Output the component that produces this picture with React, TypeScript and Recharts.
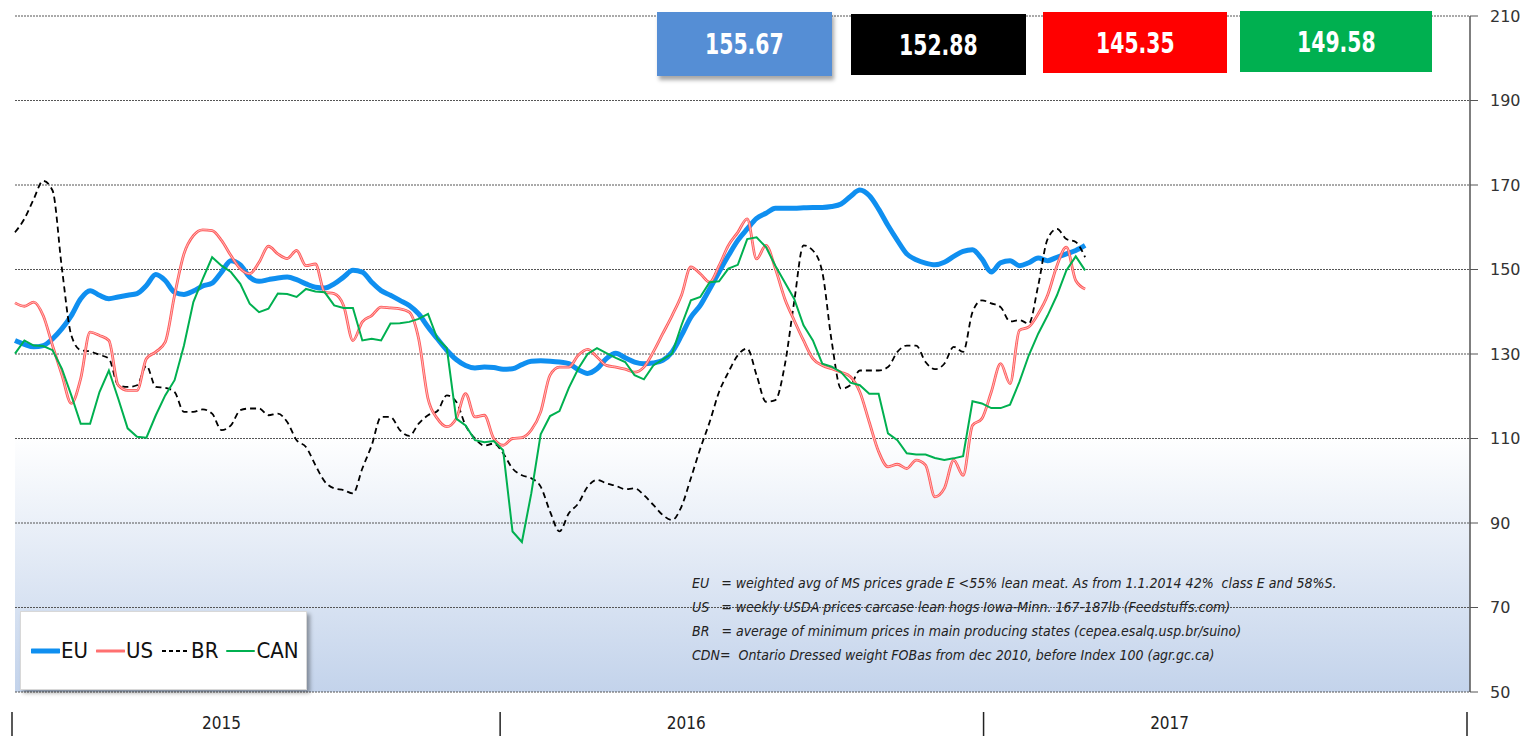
import { CartesianGrid, Line, LineChart, XAxis, YAxis } from "recharts"

// weekly pig carcase prices, week 0 = first week of 2015
const euPrices = [
  133.2, 132.3, 131.7, 132.0, 133.6, 136.0, 139.1, 143.1, 145.0, 143.9,
  143.1, 143.5, 143.9, 144.3, 146.2, 148.8, 147.4, 144.6, 144.1, 144.9,
  146.1, 146.8, 149.4, 152.1, 151.1, 148.2, 147.2, 147.6, 148.0, 148.2,
  147.6, 146.6, 145.8, 145.6, 146.6, 148.2, 149.8, 149.4, 147.0, 145.0,
  143.9, 142.7, 141.5, 139.5, 136.4, 133.6, 130.9, 128.7, 127.3, 126.7,
  126.9, 126.8, 126.4, 126.5, 127.5, 128.3, 128.4, 128.3, 128.1, 127.7,
  126.3, 125.4, 126.5, 128.9, 130.2, 129.1, 128.1, 127.7, 127.9, 128.5,
  130.5, 134.4, 138.7, 141.5, 145.4, 149.4, 153.3, 156.9, 159.6, 162.1,
  163.3, 164.5, 164.5, 164.5, 164.6, 164.7, 164.7, 164.9, 165.5, 167.3,
  168.8, 167.5, 164.3, 160.4, 156.9, 153.7, 152.3, 151.5, 151.1, 151.7,
  153.1, 154.3, 154.7, 152.5, 149.4, 151.6, 152.1, 150.9, 151.6, 152.7,
  152.1, 152.9, 153.7, 154.5, 155.7,
]

const usPrices = [
  142.1, 141.3, 142.3, 139.1, 132.0, 125.0, 118.3, 124.2, 135.2, 134.4,
  133.2, 122.6, 121.4, 121.4, 128.9, 130.5, 132.8, 143.9, 153.7, 158.0,
  159.4, 159.2, 156.9, 153.3, 150.2, 149.0, 151.7, 155.5, 153.7, 152.6,
  154.5, 150.9, 151.3, 144.6, 144.3, 141.5, 133.2, 137.6, 139.1, 141.1,
  140.9, 140.7, 139.9, 133.6, 119.4, 114.7, 112.8, 114.7, 120.6, 115.1,
  115.5, 110.0, 108.4, 110.0, 110.2, 112.0, 116.3, 125.0, 126.9, 126.9,
  129.7, 131.1, 129.3, 127.3, 126.9, 126.4, 125.7, 126.9, 130.5, 134.8,
  139.1, 143.9, 150.6, 149.0, 147.0, 150.9, 155.7, 158.8, 162.0, 152.5,
  155.7, 150.2, 143.1, 138.0, 133.2, 128.9, 127.3, 126.5, 125.7, 124.6,
  121.0, 113.9, 106.9, 103.3, 103.9, 102.9, 104.9, 103.7, 96.2, 98.2,
  104.9, 101.3, 113.1, 114.7, 121.0, 127.7, 123.0, 135.6, 136.4, 139.5,
  143.9, 150.9, 155.3, 147.4, 145.4,
]

const brPrices = [
  158.8, 162.0, 166.7, 171.0, 168.7, 150.2, 134.4, 130.9, 130.6, 129.8,
  128.9, 122.6, 122.2, 122.6, 127.2, 122.2, 122.0, 121.0, 116.3, 116.3,
  116.9, 115.9, 112.0, 113.1, 116.7, 117.1, 117.1, 115.5, 115.9, 113.9,
  109.6, 108.0, 103.7, 99.8, 98.2, 97.8, 97.0, 102.9, 108.4, 115.1,
  115.1, 112.0, 110.6, 113.5, 115.5, 116.5, 120.2, 118.7, 113.1, 110.0,
  108.3, 108.8, 106.5, 102.9, 101.3, 100.6, 98.6, 92.7, 88.0, 92.3,
  94.6, 98.6, 100.2, 99.4, 98.8, 98.0, 98.2, 96.6, 94.3, 91.9,
  90.7, 93.9, 100.6, 107.6, 113.9, 121.0, 125.7, 129.7, 131.3, 125.0,
  118.7, 119.1, 127.3, 142.3, 155.7, 154.5, 149.4, 133.0, 121.8, 122.6,
  126.1, 126.1, 126.1, 126.9, 130.5, 132.0, 132.0, 128.1, 126.4, 127.7,
  131.7, 130.5, 139.9, 142.7, 142.0, 141.1, 137.7, 138.0, 137.2, 146.2,
  157.2, 159.6, 157.2, 156.5, 152.9,
]

const canPrices = [
  130.1, 133.2, 132.0, 131.9, 130.9, 126.5, 120.2, 113.5, 113.5, 121.0,
  126.1, 119.4, 112.4, 110.4, 110.2, 115.5, 120.2, 123.8, 132.0, 142.3,
  147.8, 152.9, 150.9, 149.4, 146.6, 141.9, 139.9, 140.7, 144.3, 144.2,
  143.5, 145.4, 144.8, 144.6, 141.5, 140.9, 140.9, 133.2, 133.6, 133.2,
  137.2, 137.3, 137.6, 138.3, 139.5, 133.6, 131.4, 114.7, 113.1, 109.6,
  109.1, 109.4, 107.2, 88.0, 85.5, 97.0, 111.0, 115.3, 116.5, 122.0,
  126.5, 130.0, 131.4, 130.2, 129.1, 128.1, 125.0, 124.0, 127.3, 128.7,
  130.1, 136.8, 142.7, 143.5, 147.0, 147.2, 150.2, 151.1, 157.2, 157.6,
  155.3, 150.9, 147.0, 143.1, 136.8, 133.2, 127.7, 127.0, 125.7, 123.2,
  122.6, 120.6, 120.6, 111.2, 109.6, 106.5, 106.2, 106.2, 105.4, 104.9,
  105.3, 105.8, 118.8, 118.3, 117.2, 117.2, 118.0, 123.4, 129.7, 134.8,
  139.1, 143.9, 149.8, 153.1, 149.8,
]

const yTicks = [50, 70, 90, 110, 130, 150, 170, 190, 210]
const yearBounds = [0, 52, 103.5, 155]
const yearLabels = ["2015", "2016", "2017"]
const yearLabelWeeks = [22, 71.5, 123]

const latestValues = ["155.67", "152.88", "145.35", "149.58"]

const notes = [
  "EU   = weighted avg of MS prices grade E <55% lean meat. As from 1.1.2014 42%  class E and 58%S.",
  "US   = weekly USDA prices carcase lean hogs Iowa-Minn. 167-187lb (Feedstuffs.com)",
  "BR   = average of minimum prices in main producing states (cepea.esalq.usp.br/suino)",
  "CDN=  Ontario Dressed weight FOBas from dec 2010, before Index 100 (agr.gc.ca)",
]

const rows = euPrices.map((eu, i) => ({
  week: i,
  EU: eu,
  US: usPrices[i],
  BR: brPrices[i],
  CAN: canPrices[i],
}))

const narrow = "'DejaVu Sans Condensed', 'Liberation Sans Narrow', Roboto, sans-serif"

const boxStyles = [
  { left: 657, top: 12, width: 175, height: 64, background: "#558ed5", boxShadow: "2px 4px 4px rgba(0,0,0,0.35)" },
  { left: 851, top: 14, width: 175, height: 61, background: "#000000" },
  { left: 1043, top: 12, width: 184, height: 61, background: "#ff0000" },
  { left: 1240, top: 11, width: 192, height: 61, background: "#00b050" },
]

const legendItems = [
  { name: "EU", color: "#0f8ff0", width: 5, dash: undefined },
  { name: "US", color: "#ff7070", width: 3, dash: undefined },
  { name: "BR", color: "#000000", width: 2, dash: "4 3" },
  { name: "CAN", color: "#00b050", width: 2, dash: undefined },
]

function YearTick(props: any) {
  const { x, payload } = props
  const v = payload.value
  if (yearBounds.indexOf(v) >= 0) {
    return <line x1={x - 3} x2={x - 3} y1={712} y2={736} stroke="#222" strokeWidth={1.5} />
  }
  const idx = yearLabelWeeks.indexOf(v)
  return (
    <text x={x} y={729} textAnchor="middle" fontFamily={narrow} fontSize={17} fill="#222">
      {yearLabels[idx]}
    </text>
  )
}

function LegendBox() {
  return (
    <div
      style={{
        position: "absolute",
        left: 20,
        top: 611,
        width: 287,
        height: 79,
        background: "#fff",
        border: "1px solid #d8d8d8",
        boxShadow: "3px 3px 4px rgba(0,0,0,0.35)",
        display: "flex",
        alignItems: "center",
        paddingLeft: 10,
        boxSizing: "border-box",
        fontFamily: narrow,
        fontSize: 22,
        color: "#111",
      }}
    >
      {legendItems.map((it) => (
        <div key={it.name} style={{ display: "flex", alignItems: "center", marginRight: 8 }}>
          <svg width={29} height={10}>
            <line
              x1={1}
              x2={28}
              y1={5}
              y2={5}
              stroke={it.color}
              strokeWidth={it.width}
              strokeDasharray={it.dash}
              strokeLinecap={it.dash ? "butt" : "round"}
            />
          </svg>
          <span style={{ marginLeft: 1 }}>{it.name}</span>
        </div>
      ))}
    </div>
  )
}

export default function App() {
  return (
    <div style={{ position: "absolute", left: 0, top: 0, width: 1532, height: 738, background: "#fff" }}>
      <LineChart width={1532} height={738} data={rows} margin={{ top: 16, right: 0, left: 15, bottom: 0 }}>
        <defs>
          <linearGradient id="plotBg" x1="0" y1="0" x2="0" y2="1">
            <stop offset="0%" stopColor="#ffffff" />
            <stop offset="62%" stopColor="#ffffff" />
            <stop offset="100%" stopColor="#c3d3eb" />
          </linearGradient>
        </defs>
        <CartesianGrid vertical={false} stroke="#555" strokeDasharray="2 1" fill="url(#plotBg)" fillOpacity={1} />
        <XAxis
          dataKey="week"
          type="number"
          domain={[0, 155]}
          ticks={[...yearBounds, ...yearLabelWeeks]}
          interval={0}
          height={46}
          axisLine={false}
          tickLine={false}
          tick={<YearTick />}
        />
        <YAxis
          orientation="right"
          width={62}
          domain={[50, 210]}
          ticks={yTicks}
          interval={0}
          axisLine={{ stroke: "#555", strokeWidth: 1.5 }}
          tickLine={{ stroke: "#555" }}
          tickSize={8}
          tickMargin={12}
          tick={{ fill: "#333", fontSize: 16, fontFamily: "'DejaVu Sans', sans-serif", textAnchor: "start" }}
        />
        <Line type="monotone" dataKey="EU" stroke="#0f8ff0" strokeWidth={5} dot={false} isAnimationActive={false} />
        <Line type="monotone" dataKey="BR" stroke="#000" strokeWidth={1.8} strokeDasharray="6 4" dot={false} isAnimationActive={false} />
        <Line type="monotone" dataKey="US" stroke="#ff5a5a" strokeWidth={2.8} dot={false} isAnimationActive={false} />
        <Line type="monotone" dataKey="US" stroke="#ffd6d6" strokeWidth={0.8} dot={false} isAnimationActive={false} />
        <Line type="linear" dataKey="CAN" stroke="#00b050" strokeWidth={2} dot={false} isAnimationActive={false} />
      </LineChart>

      <LegendBox />

      {latestValues.map((v, i) => (
        <div
          key={v}
          style={{
            position: "absolute",
            ...boxStyles[i],
            display: "flex",
            alignItems: "center",
            justifyContent: "center",
            color: "#fff",
            fontFamily: narrow,
            fontWeight: "bold",
            fontSize: 29,
          }}
        >
          <span style={{ display: "inline-block", transform: "scaleX(0.78)" }}>{v}</span>
        </div>
      ))}

      <div
        style={{
          position: "absolute",
          left: 692,
          top: 571,
          fontFamily: narrow,
          fontStyle: "italic",
          fontSize: 14,
          lineHeight: "24px",
          color: "#222",
          whiteSpace: "pre",
        }}
      >
        {notes.map((n) => (
          <div key={n}>{n}</div>
        ))}
      </div>
    </div>
  )
}
